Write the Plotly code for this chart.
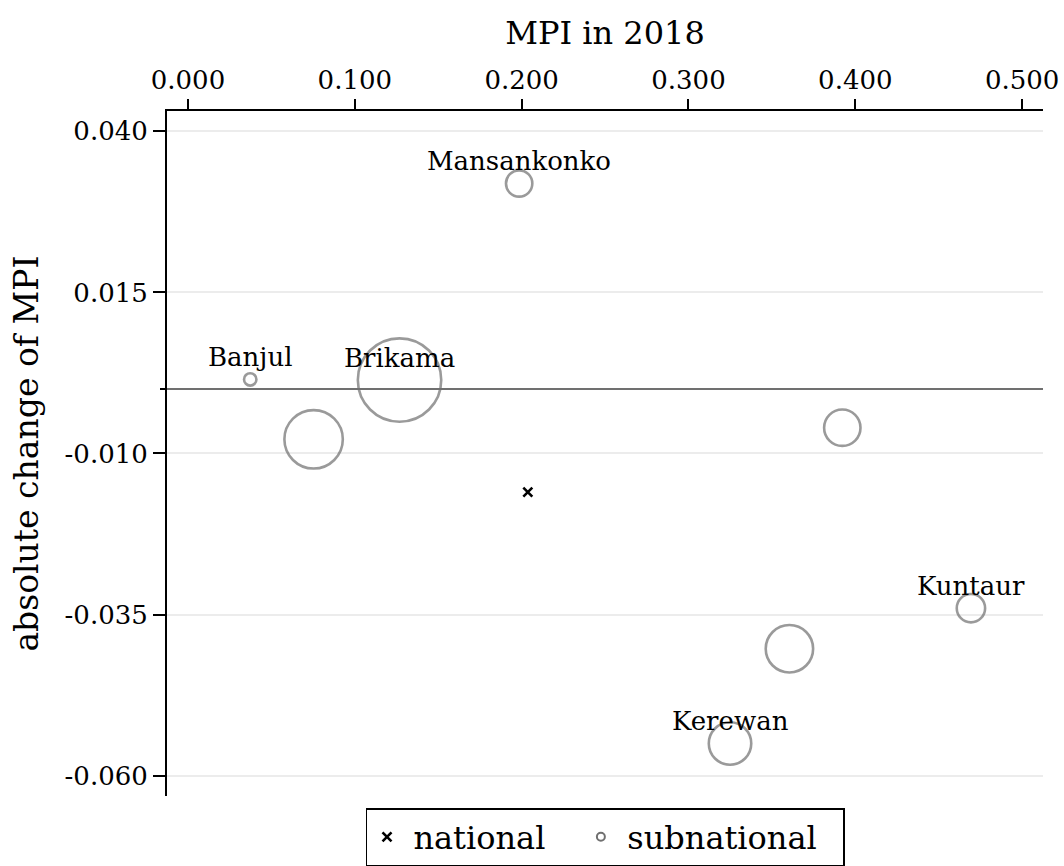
import numpy as np
import plotly.graph_objects as go

# ---- data ----
regions = ["Banjul", "Kanifing", "Brikama", "Mansankonko", "Janjanbureh", "Kuntaur", "Basse", "Kerewan"]
labels = ["Banjul", "", "Brikama", "Mansankonko", "", "Kuntaur", "", "Kerewan"]
mpi_2018 = [0.0373, 0.0753, 0.1268, 0.1985, 0.3922, 0.4693, 0.3605, 0.3249]
abs_change = [0.0015, -0.0078, 0.0014, 0.0319, -0.0060, -0.0340, -0.0403, -0.0550]
weight = [22, 365, 725, 82, 149, 94, 245, 199]  # bubble weights (population, thousands)

national_mpi = [0.2037]
national_change = [-0.0160]

x_ticks = [0.0, 0.1, 0.2, 0.3, 0.4, 0.5]
x_ticktext = ["0.000", "0.100", "0.200", "0.300", "0.400", "0.500"]
y_ticks = [0.040, 0.015, -0.010, -0.035, -0.060]
y_ticktext = ["0.040", "0.015", "-0.010", "-0.035", "-0.060"]

FONT = "DejaVu Serif"
GRAY = "rgb(112,112,112)"
LW = 2.6
NB = "\u00a0"
TS = "\u2009"

W, H = 1064, 866
ML, MR, MT, MB = 167, 21, 111, 0
PLOT_BOTTOM = 798
dom_lo = (H - PLOT_BOTTOM) / (H - MT)
legend_top = (H - 810) / (H - MT)

sizes = 0.101 * np.sqrt(np.array(weight) * 1000.0) - LW

fig = go.Figure()
fig.add_trace(go.Scatter(
    x=mpi_2018, y=abs_change, mode="markers", showlegend=False,
    marker=dict(symbol="circle", size=sizes, color="rgba(0,0,0,0)", line=dict(width=LW, color=GRAY)),
    hovertext=regions,
))
fig.add_trace(go.Scatter(
    x=national_mpi, y=national_change, mode="markers", showlegend=False,
    marker=dict(symbol="x-thin", size=9, color="black", line=dict(width=2.6, color="black")),
))
# legend entries
fig.add_trace(go.Scatter(
    x=[None], y=[None], mode="markers", name=TS + "national" + NB * 3,
    marker=dict(symbol="x-thin", size=9, color="black", line=dict(width=2.6, color="black")),
))
fig.add_trace(go.Scatter(
    x=[None], y=[None], mode="markers", name=TS + "subnational" + NB * 2,
    marker=dict(symbol="circle", size=8, color="rgba(0,0,0,0)", line=dict(width=2, color=GRAY)),
))

for xv, yv, t in zip(mpi_2018, abs_change, labels):
    if t:
        fig.add_annotation(x=xv, y=yv, text=t, showarrow=False, yshift=22,
                           font=dict(family=FONT, size=26, color="black"))

# y-axis title
fig.add_annotation(xref="paper", yref="y domain", x=0, y=0.5, xshift=-140,
                   xanchor="center", yanchor="middle", textangle=-90, showarrow=False,
                   text="absolute change of MPI", font=dict(family=FONT, size=33, color="black"))

fig.update_layout(
    width=W, height=H,
    margin=dict(l=ML, r=MR, t=MT, b=MB),
    paper_bgcolor="white", plot_bgcolor="white",
    font=dict(family=FONT, size=26, color="black"),
    legend=dict(orientation="h", x=0.5, xanchor="center", y=legend_top, yanchor="top",
                bordercolor="black", borderwidth=1.5, font=dict(family=FONT, size=32),
                itemsizing="trace"),
    xaxis=dict(
        side="top", range=[-0.01258, 0.5125], tickvals=x_ticks, ticktext=x_ticktext,
        ticks="outside", ticklen=10, tickwidth=1.5, tickcolor="black",
        showline=True, linecolor="black", linewidth=2, showgrid=False, zeroline=False,
        automargin=False,
        title=dict(text="MPI in 2018", font=dict(family=FONT, size=32), standoff=10),
        tickfont=dict(family=FONT, size=26),
    ),
    yaxis=dict(
        domain=[dom_lo, 1],
        range=[-0.06318, 0.04315], tickvals=y_ticks, ticktext=y_ticktext,
        ticks="outside", ticklen=12, tickwidth=2, tickcolor="black",
        showline=True, linecolor="black", linewidth=2,
        showgrid=True, gridcolor="rgb(236,236,236)", gridwidth=2,
        zeroline=True, zerolinecolor=GRAY, zerolinewidth=1.5,
        automargin=False,
        minor=dict(tickvals=[0.0], ticks="outside", ticklen=5, tickwidth=2, tickcolor="black", showgrid=False),
        tickfont=dict(family=FONT, size=26),
    ),
)

fig.write_html("out.html", config={"displayModeBar": False},
               post_script="document.body.style.margin='0';document.body.style.overflow='hidden';")
